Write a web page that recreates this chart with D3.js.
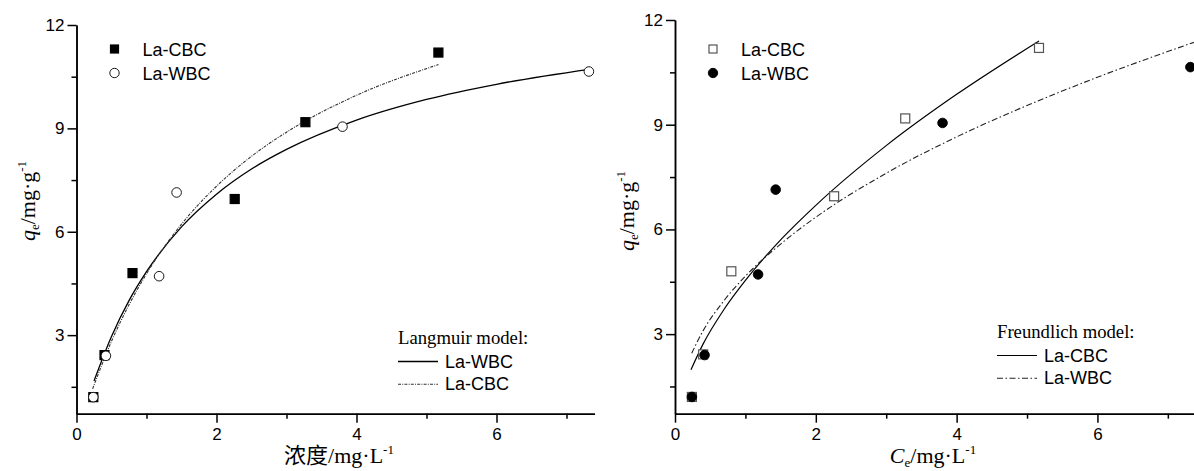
<!DOCTYPE html>
<html>
<head>
<meta charset="utf-8">
<script src="https://cdn.jsdelivr.net/npm/d3@7"></script>
<style>
  body { margin: 0; background: #fff; }
  svg { display: block; }
</style>
</head>
<body>
<svg width="1194" height="471"></svg>
<script>
// measured points (same samples in both panels)
var cbcC = [0.24, 0.40, 0.80, 2.26, 3.27, 5.17];
var cbcQ = [1.20, 2.42, 4.80, 6.95, 9.18, 11.20];
var wbcC = [0.24, 0.42, 1.18, 1.43, 3.80, 7.32];
var wbcQ = [1.20, 2.40, 4.71, 7.14, 9.05, 10.65];

// Langmuir fit curves
var langWbcC = [0.25, 0.5, 0.75, 1, 1.5, 2, 2.5, 3, 4, 5, 6, 7.35];
var langWbcQ = [1.67, 2.96, 4.00, 4.84, 6.14, 7.09, 7.82, 8.39, 9.24, 9.84, 10.28, 10.72];
var langCbcC = [0.23, 0.5, 0.75, 1, 1.5, 2, 2.5, 3, 4, 5.17];
var langCbcQ = [1.44, 2.82, 3.88, 4.78, 6.22, 7.32, 8.19, 8.89, 9.96, 10.85];

// Freundlich fit curves
var frCbcC = [0.227, 0.4, 0.7, 1, 1.5, 2, 3, 4, 5.17];
var frCbcQ = [1.98, 2.72, 3.72, 4.54, 5.70, 6.69, 8.40, 9.87, 11.40];
var frWbcC = [0.237, 0.4, 0.7, 1, 1.5, 2, 3, 4, 5, 6, 7.37];
var frWbcQ = [2.45, 3.10, 3.97, 4.66, 5.58, 6.35, 7.61, 8.65, 9.55, 10.36, 11.36];

var xMajor = [0, 2, 4, 6];
var xMinor = [1, 3, 5, 7];
var yMajor = [3, 6, 9, 12];
var yMinor = [1.5, 4.5, 7.5, 10.5];

var svg = d3.select("svg");
var sans = "'Liberation Sans', Arial, sans-serif";
var serif = "'Liberation Serif', 'Times New Roman', 'Noto Sans CJK SC', serif";

function zip(xs, ys) {
    return xs.map((d, i) => [d, ys[i]]);
}

function drawPanel(p) {
    var g = svg.append("g");
    var x = d3.scaleLinear().domain([0, 7.4]).range(p.xRange);
    var y = d3.scaleLinear().domain([0.72, 12]).range(p.yRange);
    var bottom = p.yRange[0];

    // minor + major ticks
    g.append("g").attr("transform", `translate(0,${bottom})`)
        .call(d3.axisBottom(x).tickValues(xMinor).tickSize(5).tickSizeOuter(0).tickFormat(""));
    g.append("g").attr("transform", `translate(0,${bottom})`)
        .call(d3.axisBottom(x).tickValues(xMajor).tickSize(9).tickSizeOuter(0).tickPadding(5));
    g.append("g").attr("transform", `translate(${p.xRange[0]},0)`)
        .call(d3.axisLeft(y).tickValues(yMinor).tickSize(5).tickSizeOuter(0).tickFormat(""));
    g.append("g").attr("transform", `translate(${p.xRange[0]},0)`)
        .call(d3.axisLeft(y).tickValues(yMajor).tickSize(9).tickSizeOuter(0).tickPadding(3));

    g.selectAll(".domain, .tick line").attr("stroke", "#000").attr("stroke-width", 1.5);
    g.selectAll(".tick text").attr("font-family", sans).attr("font-size", 17).attr("fill", "#000");

    var line = d3.line().x(d => x(d[0])).y(d => y(d[1])).curve(d3.curveMonotoneX);

    p.curves.forEach(c => {
        g.append("path")
            .datum(zip(c.cx, c.cq))
            .attr("d", line)
            .attr("fill", "none")
            .attr("stroke", c.color)
            .attr("stroke-width", c.width)
            .attr("stroke-dasharray", c.dash);
    });

    // squares first, circles on top
    g.append("g").selectAll("rect")
        .data(zip(cbcC, cbcQ))
        .enter()
        .append("rect")
        .attr("x", d => x(d[0]) - 4.5)
        .attr("y", d => y(d[1]) - 4.5)
        .attr("width", 9)
        .attr("height", 9)
        .attr("fill", p.squareFill)
        .attr("stroke", p.squareStroke)
        .attr("stroke-width", 1.2);

    g.append("g").selectAll("circle")
        .data(zip(wbcC, wbcQ))
        .enter()
        .append("circle")
        .attr("cx", d => x(d[0]))
        .attr("cy", d => y(d[1]))
        .attr("r", 4.8)
        .attr("fill", p.circleFill)
        .attr("stroke", "#000")
        .attr("stroke-width", 0.9);

    // marker legend
    var lx = p.xRange[0] + 38;
    g.append("rect")
        .attr("x", lx - 4).attr("y", 45).attr("width", 8).attr("height", 8)
        .attr("fill", p.squareFill).attr("stroke", p.squareStroke).attr("stroke-width", 1.2);
    g.append("circle")
        .attr("cx", lx).attr("cy", 73).attr("r", 4.7)
        .attr("fill", p.circleFill).attr("stroke", "#000").attr("stroke-width", 0.9);
    g.append("text").attr("x", lx + 28).attr("y", 56)
        .attr("font-family", sans).attr("font-size", 18).text("La-CBC");
    g.append("text").attr("x", lx + 28).attr("y", 79.5)
        .attr("font-family", sans).attr("font-size", 18).text("La-WBC");

    // model legend
    var mx = p.modelX, my = p.modelY;
    g.append("text").attr("x", mx).attr("y", my)
        .attr("font-family", serif).attr("font-size", 18.7).text(p.modelTitle);
    p.curves.forEach((c, i) => {
        var yy = my + 17.5 + i * 22.8;
        g.append("line")
            .attr("x1", mx).attr("x2", mx + 40)
            .attr("y1", yy).attr("y2", yy)
            .attr("stroke", c.color)
            .attr("stroke-width", c.width)
            .attr("stroke-dasharray", c.dash);
        g.append("text").attr("x", mx + 47).attr("y", yy + 6)
            .attr("font-family", sans).attr("font-size", 18).text(c.label);
    });

    // axis titles
    var yt = g.append("text")
        .attr("transform", `translate(${p.yTitleX},${p.yTitleY}) rotate(-90)`)
        .attr("text-anchor", "middle")
        .attr("font-family", serif)
        .attr("font-size", 22);
    yt.append("tspan").attr("font-style", "italic").text("q");
    yt.append("tspan").attr("font-size", 13).attr("dy", 4).text("e");
    yt.append("tspan").attr("dy", -4).text("/mg·g");
    yt.append("tspan").attr("font-size", 13).attr("dy", -9).text("-1");

    var xt = g.append("text")
        .attr("x", p.xTitleX).attr("y", 463)
        .attr("text-anchor", "middle")
        .attr("font-family", serif)
        .attr("font-size", 22);
    p.xTitle(xt);
    xt.append("tspan").attr("font-size", 13).attr("dy", -9).text("-1");
}

drawPanel({
    xRange: [76.5, 594.5],
    yRange: [413.7, 25],
    squareFill: "#000", squareStroke: "#000",
    circleFill: "#fff",
    curves: [
        { cx: langWbcC, cq: langWbcQ, color: "#000", width: 1.3, dash: null, label: "La-WBC" },
        { cx: langCbcC, cq: langCbcQ, color: "#333", width: 1.1, dash: "3,1.2,1,1.2", label: "La-CBC" }
    ],
    modelTitle: "Langmuir model:",
    modelX: 398, modelY: 344,
    yTitleX: 35, yTitleY: 201,
    xTitleX: 339,
    xTitle: t => t.append("tspan").text("浓度/mg·L")
});

drawPanel({
    xRange: [675, 1196],
    yRange: [413.7, 20],
    squareFill: "#fff", squareStroke: "#555",
    circleFill: "#000",
    curves: [
        { cx: frCbcC, cq: frCbcQ, color: "#000", width: 1.2, dash: null, label: "La-CBC" },
        { cx: frWbcC, cq: frWbcQ, color: "#222", width: 1.1, dash: "6,2.5,1.5,2.5", label: "La-WBC" }
    ],
    modelTitle: "Freundlich model:",
    modelX: 997, modelY: 338,
    yTitleX: 634, yTitleY: 211,
    xTitleX: 933,
    xTitle: t => {
        t.append("tspan").attr("font-style", "italic").text("C");
        t.append("tspan").attr("font-size", 13).attr("dy", 4).text("e");
        t.append("tspan").attr("dy", -4).text("/mg·L");
    }
});
</script>
</body>
</html>
